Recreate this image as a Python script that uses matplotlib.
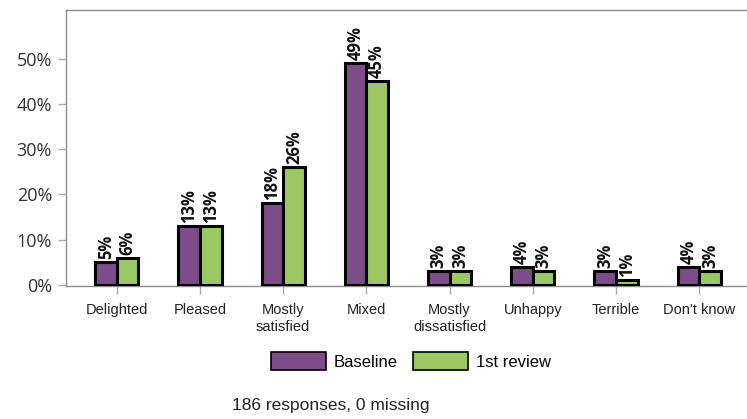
import matplotlib
matplotlib.use("Agg")
import matplotlib.pyplot as plt
import numpy as np
from matplotlib.patches import Patch

categories = ["Delighted", "Pleased", "Mostly\nsatisfied", "Mixed", "Mostly\ndissatisfied",
              "Unhappy", "Terrible", "Don't know"]
baseline = [5, 13, 18, 49, 3, 4, 3, 4]
review1 = [6, 13, 26, 45, 3, 3, 1, 3]
series_names = ["Baseline", "1st review"]
yticks = [0, 10, 20, 30, 40, 50]
footer = "186 responses, 0 missing"

narrow = "Liberation Sans"

purple = "#7E4C88"
green = "#9CC863"
spine_c = "#8c8c8c"

fig = plt.figure(figsize=(7.47, 4.19), dpi=100)
ax = fig.add_axes([66/747, 1-286/419, 1.005-66/747, 276/419])

x = np.arange(len(categories))
w = 0.26
ax.bar(x - w/2, baseline, w, color=purple, edgecolor="black", linewidth=2.2, zorder=3)
ax.bar(x + w/2, review1, w, color=green, edgecolor="black", linewidth=2.2, zorder=3)

for xi, v in zip(x - w/2, baseline):
    ax.text(xi, v + 0.7, f"{v}%", rotation=90, ha="center", va="bottom",
            fontsize=12, fontweight="bold", family="Open Sans", color="#111111")
for xi, v in zip(x + w/2, review1):
    ax.text(xi, v + 0.7, f"{v}%", rotation=90, ha="center", va="bottom",
            fontsize=12, fontweight="bold", family="Open Sans", color="#111111")

ax.set_xlim(-0.61, 7.62)
ax.set_ylim(-0.25, 60.8)
ax.set_yticks(yticks)
ax.set_yticklabels([f"{t}%" for t in yticks], family="Open Sans", fontsize=13, color="#333333")
ax.set_xticks(x)
ax.set_xticklabels(categories, family=narrow, fontsize=10.5, color="#222222", linespacing=1.3)
ax.tick_params(axis="both", direction="out", length=6, color="#aaaaaa", width=1)
ax.tick_params(axis="x", pad=6)
ax.tick_params(axis="y", pad=4)
for s in ax.spines.values():
    s.set_color(spine_c)
    s.set_linewidth(1.0)

handles = [Patch(facecolor=purple, edgecolor="black", linewidth=1.2),
           Patch(facecolor=green, edgecolor="black", linewidth=1.2)]
leg = fig.legend(handles, series_names, loc="center", bbox_to_anchor=(411/747, 1-361/419),
                 ncol=2, frameon=False, handlelength=3.3, handleheight=1.3,
                 handletextpad=0.5, columnspacing=0.9,
                 prop={"family": narrow, "size": 12})

fig.text(331/747, 1-405/419, footer, ha="center", va="center",
         family=narrow, fontsize=12.5, color="#222222")

fig.savefig("out.png", dpi=100)
